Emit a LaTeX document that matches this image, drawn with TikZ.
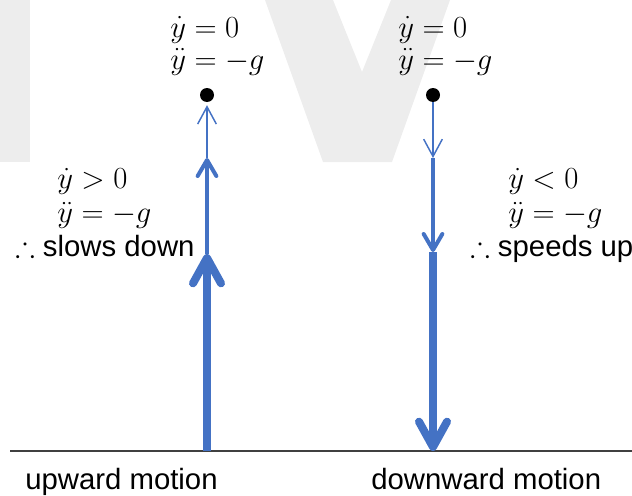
\RequirePackage{fix-cm}
\documentclass[tikz,border=0pt]{standalone}
\usepackage{amssymb}
\usepackage{fontspec}
\setsansfont{Liberation Sans}
\usetikzlibrary{arrows.meta}
\definecolor{arrowblue}{HTML}{4472C4}
\definecolor{wmgray}{HTML}{EDEDED}
\definecolor{axisgray}{HTML}{404040}
\newcommand\bigsz{\fontsize{22}{26}\selectfont}
\newcommand\mathsz{\fontsize{23}{26}\selectfont}
\tikzset{
  thickarr/.style={line width=6pt, draw=arrowblue, -{Straight Barb[length=19pt,width=21pt,round]}},
  medarr/.style={line width=3pt, draw=arrowblue, -{Straight Barb[length=12pt,width=14pt,round]}},
  thinarr/.style={line width=1.1pt, draw=arrowblue, -{Straight Barb[length=13pt,width=14pt]}},
  dotnode/.style={circle, fill=black, inner sep=0pt, minimum size=10.5pt},
  mathlbl/.style={anchor=base west, inner sep=0pt, font=\mathsz},
  textlbl/.style={anchor=base west, inner sep=0pt, font=\bigsz\sffamily},
}
\begin{document}
\begin{tikzpicture}[x=0.75pt,y=-0.75pt]
\useasboundingbox (0,0) rectangle (632,496);
% watermark
\fill[wmgray] (0,0) rectangle (30,162);
\fill[wmgray] (265,0) -- (333,0) -- (362,72) -- (391,0) -- (450,0) -- (392,162) -- (323,162) -- cycle;
% axis
\coordinate (axL) at (10,451);
\coordinate (axR) at (632,451);
\draw[axisgray, line width=0.9pt] (axL) -- (axR);
% left: upward motion
\node[dotnode] (Ldot) at (207,95) {};
\coordinate (Lbase) at (207,451);
\coordinate (Lm) at (207,254);
\coordinate (Lt) at (207,158);
\draw[thickarr] (Lbase) -- (Lm);
\draw[medarr] (Lm) -- (Lt);
\draw[thinarr, shorten >=2.2pt] (Lt) -- (Ldot);
% right: downward motion
\node[dotnode] (Rdot) at (433,95) {};
\coordinate (Rt) at (433,158);
\coordinate (Rm) at (433,252);
\coordinate (Rbase) at (433,451);
\draw[thinarr] (Rdot) -- (Rt);
\draw[medarr] (Rt) -- (Rm);
\draw[thickarr] (Rm) -- (Rbase);
% labels top
\node[mathlbl] (tl1) at (170,37) {$\dot{y}=0$};
\node[mathlbl] (tl2) at (170,69) {$\ddot{y}=-g$};
\node[mathlbl] (tr1) at (398,37) {$\dot{y}=0$};
\node[mathlbl] (tr2) at (398,69) {$\ddot{y}=-g$};
% labels middle
\node[mathlbl] (ml1) at (57,188) {$\dot{y}>0$};
\node[mathlbl] (ml2) at (57,222) {$\ddot{y}=-g$};
\node[textlbl] (ml3) at (15,256) {$\therefore$ slows down};
\node[mathlbl] (mr1) at (508,188) {$\dot{y}<0$};
\node[mathlbl] (mr2) at (508,222) {$\ddot{y}=-g$};
\node[textlbl] (mr3) at (470,256) {$\therefore$ speeds up};
% bottom
\node[textlbl] (bl) at (25,489) {upward motion};
\node[textlbl] (br) at (371,489) {downward motion};
\end{tikzpicture}
\end{document}
